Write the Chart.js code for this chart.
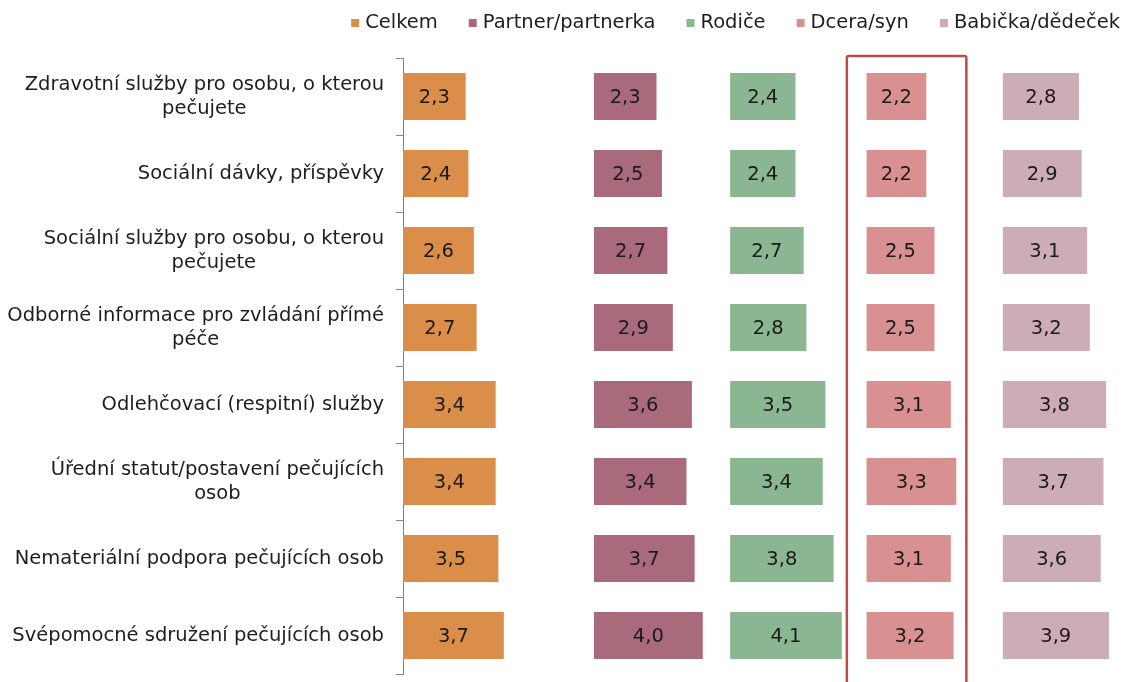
<!DOCTYPE html>
<html>
<head>
<meta charset="utf-8">
<script src="https://cdn.jsdelivr.net/npm/chart.js@4"></script>
<style>
  html, body { margin: 0; padding: 0; background: #fff; }
  #wrap { width: 1130px; height: 682px; }
</style>
</head>
<body>
<div id="wrap"><canvas id="graf"></canvas></div>
<script>
// kategorie (radky grafu)
const kategorie = [
  ["Zdravotní služby pro osobu, o kterou", "pečujete"],
  ["Sociální dávky, příspěvky"],
  ["Sociální služby pro osobu, o kterou", "pečujete"],
  ["Odborné informace pro zvládání přímé", "péče"],
  ["Odlehčovací (respitní) služby"],
  ["Úřední statut/postavení pečujících", "osob"],
  ["Nemateriální podpora pečujících osob"],
  ["Svépomocné sdružení pečujících osob"]
];

// hodnoty jednotlivych serii
const celkem = [2.3, 2.4, 2.6, 2.7, 3.4, 3.4, 3.5, 3.7];
const partner = [2.3, 2.5, 2.7, 2.9, 3.6, 3.4, 3.7, 4.0];
const rodice = [2.4, 2.4, 2.7, 2.8, 3.5, 3.4, 3.8, 4.1];
const dcera = [2.2, 2.2, 2.5, 2.5, 3.1, 3.3, 3.1, 3.2];
const babicka = [2.8, 2.9, 3.1, 3.2, 3.8, 3.7, 3.6, 3.9];

const nazvy = ["Celkem", "Partner/partnerka", "Rodiče", "Dcera/syn", "Babička/dědeček"];
const barvy = ["#DB8E49", "#A96B7C", "#8AB692", "#D89190", "#CDADB5"];

// kazda serie ma vlastni osu x, osy jsou vedle sebe (stack)
const sirkySloupcu = [7, 5, 5, 5, 4.6];

const PISMO = '"DejaVu Sans", Verdana, sans-serif';
const VELIKOST = 19.5;

const hodnoty = [celkem, partner, rodice, dcera, babicka];

const datasets = hodnoty.map((h, i) => ({
  label: nazvy[i],
  data: h,
  backgroundColor: barvy[i],
  xAxisID: 'x' + i,
  stack: 'vse',
  barPercentage: 0.61,
  categoryPercentage: 1
}));

const scales = {
  y: {
    type: 'category',
    grid: {
      display: true,
      drawOnChartArea: false,
      drawTicks: true,
      tickLength: 7,
      color: '#868686',
      offset: true
    },
    border: { display: true, color: '#808080', width: 1 },
    ticks: { display: false },
    afterFit: (s) => { s.width = 403; }
  }
};
sirkySloupcu.forEach((m, i) => {
  scales['x' + i] = {
    type: 'linear',
    position: 'bottom',
    stack: 'sloupce',
    stackWeight: m,
    min: 0,
    max: m,
    display: false
  };
});

// popisky osy y - radky centrovane mezi sebou, blok zarovnany doprava
const popiskyY = {
  id: 'popiskyY',
  afterDraw(chart) {
    const ctx = chart.ctx;
    const y = chart.scales.y;
    const vpravo = y.right - 19;
    const radek = 24;
    ctx.save();
    ctx.font = VELIKOST + 'px ' + PISMO;
    ctx.fillStyle = '#1e1e1e';
    ctx.textAlign = 'center';
    ctx.textBaseline = 'middle';
    chart.data.labels.forEach((lbl, i) => {
      const radky = Array.isArray(lbl) ? lbl : [lbl];
      const sirka = Math.max(...radky.map(r => ctx.measureText(r).width));
      const stred = vpravo - sirka / 2;
      const yc = y.getPixelForValue(i);
      radky.forEach((r, j) => {
        ctx.fillText(r, stred, yc + (j - (radky.length - 1) / 2) * radek);
      });
    });
    ctx.restore();
  }
};

// hodnoty uvnitr sloupcu
const hodnotyVBarech = {
  id: 'hodnotyVBarech',
  afterDatasetsDraw(chart) {
    const ctx = chart.ctx;
    ctx.save();
    ctx.font = VELIKOST + 'px ' + PISMO;
    ctx.fillStyle = '#1a1a1a';
    ctx.textAlign = 'center';
    ctx.textBaseline = 'middle';
    chart.data.datasets.forEach((ds, di) => {
      const meta = chart.getDatasetMeta(di);
      meta.data.forEach((el, i) => {
        const p = el.getProps(['x', 'y', 'base'], true);
        const txt = ds.data[i].toFixed(1).replace('.', ',');
        ctx.fillText(txt, (p.x + p.base) / 2, p.y + 1);
      });
    });
    ctx.restore();
  }
};

// cerveny ramecek kolem serie Dcera/syn
const ramecek = {
  id: 'ramecek',
  afterDraw(chart) {
    const ctx = chart.ctx;
    const s = chart.scales.x3;
    const area = chart.chartArea;
    ctx.save();
    ctx.strokeStyle = '#BE4B48';
    ctx.lineWidth = 2.5;
    ctx.beginPath();
    ctx.roundRect(s.left - 19.5, area.top - 2, 119.5, chart.height + 10, 2);
    ctx.stroke();
    ctx.restore();
  }
};

// legenda nahore vpravo
const legenda = {
  id: 'legenda',
  afterDraw(chart) {
    const ctx = chart.ctx;
    ctx.save();
    ctx.font = VELIKOST + 'px ' + PISMO;
    ctx.textBaseline = 'middle';
    ctx.textAlign = 'left';
    const box = 8, odsazeni = 14, mezera = 31, yc = 23;
    const sirky = chart.data.datasets.map(d => ctx.measureText(d.label).width);
    const celkovaSirka = sirky.reduce((a, w) => a + odsazeni + w, 0) + mezera * (sirky.length - 1);
    let x = 1120 - celkovaSirka;
    chart.data.datasets.forEach((d, i) => {
      ctx.fillStyle = d.backgroundColor;
      ctx.fillRect(x, yc - box / 2, box, box);
      ctx.fillStyle = '#1e1e1e';
      ctx.fillText(d.label, x + odsazeni, yc);
      x += odsazeni + sirky[i] + mezera;
    });
    ctx.restore();
  }
};

const data = { labels: kategorie, datasets };

const config = {
  type: 'bar',
  data,
  options: {
    indexAxis: 'y',
    responsive: true,
    maintainAspectRatio: false,
    animation: false,
    layout: { padding: { top: 58, bottom: 8, left: 0, right: 2 } },
    scales,
    plugins: {
      legend: { display: false },
      tooltip: { enabled: false }
    }
  },
  plugins: [popiskyY, hodnotyVBarech, ramecek, legenda]
};

const canvas = document.getElementById('graf');
const graf = new Chart(canvas, config);
</script>
</body>
</html>
